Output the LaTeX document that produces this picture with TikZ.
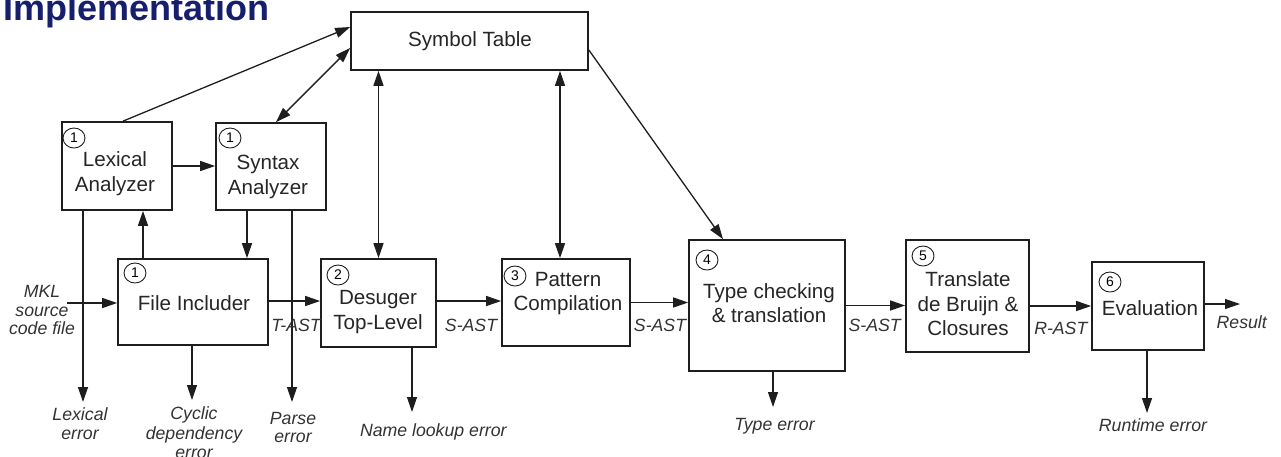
\documentclass[tikz,border=0pt]{standalone}
\usepackage{fontspec}
\setmainfont{Liberation Sans}
\usetikzlibrary{arrows.meta,shapes.geometric}
\definecolor{titleblue}{RGB}{22,30,110}
\definecolor{ink}{RGB}{30,30,30}
\begin{document}
\begin{tikzpicture}[x=1pt,y=-1pt,
  box/.style={draw=ink, line width=1.7pt, inner sep=0pt},
  boxtext/.style={font=\fontsize{20.6}{24.5}\selectfont, align=center, inner sep=0pt, text=black!85},
  lbl/.style={font=\fontsize{17.7}{19.5}\selectfont\itshape, align=center, inner sep=0pt, text=black!80},
  num/.style={draw=ink, ellipse, line width=0.9pt, minimum width=22pt, minimum height=20pt, inner sep=0pt, font=\fontsize{14}{14}\selectfont},
  arr/.style={-{Triangle[length=15pt,width=10pt]}, line width=1.3pt, draw=ink},
  biarr/.style={{Triangle[length=15pt,width=10pt]}-{Triangle[length=15pt,width=10pt]}, line width=1.3pt, draw=ink}]

\clip (0,0) rectangle (1281,456);
\fill[white] (0,0) rectangle (1281,456);

% heading
\node[anchor=base west, inner sep=0pt, font=\fontsize{36}{36}\selectfont\bfseries, text=titleblue] (title) at (3,20) {Implementation};

% boxes
\node[box, minimum width=237pt, minimum height=58pt] (sym) at (469.5,41) {};
\node[box, minimum width=110pt, minimum height=88pt] (lex) at (117,166) {};
\node[box, minimum width=110pt, minimum height=87pt] (syn) at (271,166.5) {};
\node[box, minimum width=150pt, minimum height=86pt] (file) at (193,302) {};
\node[box, minimum width=115pt, minimum height=88pt] (des) at (378.5,303) {};
\node[box, minimum width=128pt, minimum height=87pt] (pat) at (566,302.5) {};
\node[box, minimum width=156pt, minimum height=131pt] (typ) at (767,305.5) {};
\node[box, minimum width=123pt, minimum height=112pt] (tra) at (967.5,296) {};
\node[box, minimum width=112pt, minimum height=88pt] (eva) at (1148,306) {};

% box texts
\node[boxtext, anchor=base] (symT) at (470,46.7) {Symbol Table};
\node[boxtext] (lexT) at (115,173.9) {Lexical\\Analyzer};
\node[boxtext] (synT) at (268,176.9) {Syntax\\Analyzer};
\node[boxtext, anchor=base] (fileT) at (194,310) {File Includer};
\node[boxtext] (desT) at (378,311.9) {Desuger\\Top-Level};
\node[boxtext] (patT) at (568,293.6) {Pattern\\Compilation};
\node[boxtext] (typT) at (769,303) {Type checking\\\& translation};
\node[boxtext] (traT) at (968,303.7) {Translate\\de Bruijn \&\\Closures};
\node[boxtext, anchor=base] (evaT) at (1150,315) {Evaluation};

% phase numbers
\node[num] (lexN) at (74,138) {1};
\node[num] (synN) at (230,138) {1};
\node[num] (fileN) at (135,273) {1};
\node[num] (desN) at (338,275) {2};
\node[num] (patN) at (515,276) {3};
\node[num] (typN) at (707,260) {4};
\node[num] (traN) at (923,256) {5};
\node[num] (evaN) at (1110,282) {6};

% attachment points and free ends
\coordinate (patTop) at ([xshift=-6pt]pat.north);
\coordinate (src) at (67,303);
\coordinate (res) at (1240,304);
\coordinate (lexErr) at (83,402);
\coordinate (cycErr) at (192,400);
\coordinate (parErr) at (292,402);
\coordinate (namErr) at (412,412);
\coordinate (typErr) at (773,407);
\coordinate (runErr) at (1147,413);

% symbol table links
\draw[arr] ([xshift=6pt]lex.north) -- ([yshift=14pt]sym.west);
\draw[biarr] ([xshift=5pt]syn.north) -- ([yshift=-7pt]sym.west);
\draw[biarr] (sym.south -| des.north) -- (des.north);
\draw[biarr] (sym.south -| patTop) -- (patTop);
\draw[arr] ([yshift=-9pt]sym.east) -- ([xshift=-44pt]typ.north);

% front end
\draw[arr] (lex.east) -- (lex.east -| syn.west);
\draw[arr] ([xshift=-50pt]file.north) -- ([xshift=-50pt]file.north |- lex.south);
\draw[arr] ([xshift=-24pt]syn.south) -- ([xshift=-24pt]syn.south |- file.north);
\draw[arr] (src) -- (src -| file.west);

% pipeline
\draw[arr] ([yshift=1pt]file.east) -- ([yshift=1pt]file.east -| des.west);
\draw[arr] ([yshift=2pt]des.east) -- ([yshift=2pt]des.east -| pat.west);
\draw[arr] (pat.east) -- (pat.east -| typ.west);
\draw[arr] (typ.east) -- (typ.east -| tra.west);
\draw[arr] (eva.west -| tra.east) -- (eva.west);
\draw[arr] (res -| eva.east) -- (res);

% errors
\draw[arr] (lexErr |- lex.south) -- (lexErr);
\draw[arr] (cycErr |- file.south) -- (cycErr);
\draw[arr] (parErr |- syn.south) -- (parErr);
\draw[arr] (namErr |- des.south) -- (namErr);
\draw[arr] (typErr |- typ.south) -- (typErr);
\draw[arr] (runErr |- eva.south) -- (runErr);

% labels
\node[lbl, font=\fontsize{17.7}{18.5}\selectfont\itshape] (srcL) at (42,310) {MKL\\source\\code file};
\node[lbl, anchor=base] (tastL) at (296,331.7) {T-AST};
\node[lbl, anchor=base] (sast1L) at (471,331.7) {S-AST};
\node[lbl, anchor=base] (sast2L) at (660,331.7) {S-AST};
\node[lbl, anchor=base] (sast3L) at (874.7,331.7) {S-AST};
\node[lbl, anchor=base] (rastL) at (1060.8,334) {R-AST};
\node[lbl, anchor=base] (resL) at (1241.7,328.3) {Result};
\node[lbl] (lexErrL) at (80,423.7) {Lexical\\error};
\node[lbl] (cycErrL) at (194,433) {Cyclic\\dependency\\error};
\node[lbl, font=\fontsize{17.7}{18}\selectfont\itshape] (parErrL) at (293,427.7) {Parse\\error};
\node[lbl, anchor=base] (namErrL) at (433.3,436) {Name lookup error};
\node[lbl, anchor=base] (typErrL) at (774.5,430) {Type error};
\node[lbl, anchor=base] (runErrL) at (1153,431.7) {Runtime error};
\end{tikzpicture}
\end{document}
